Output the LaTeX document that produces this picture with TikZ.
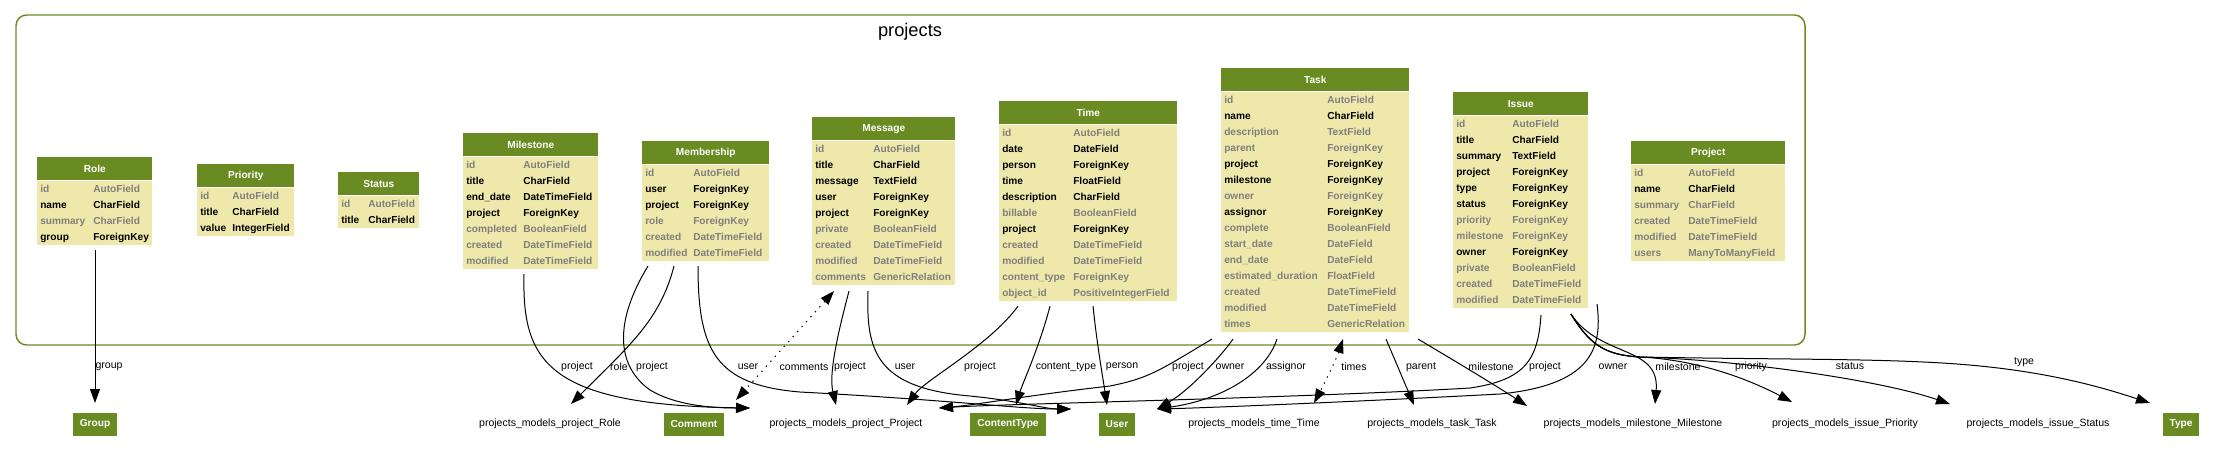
\documentclass[tikz,border=0pt]{standalone}
\usepackage{fontspec}
\setmainfont{Liberation Sans}
\usepackage{array}
\usetikzlibrary{arrows.meta,calc}
\newlength{\px}\setlength{\px}{0.75pt}
\definecolor{hdrgreen}{HTML}{698B22}
\definecolor{fieldbg}{HTML}{EEE8AA}
\definecolor{fieldgray}{HTML}{7F7F7F}
\newcommand{\tablefont}{\fontsize{7.6pt}{12pt}\selectfont\bfseries}
\newcommand{\labelfont}{\fontsize{7.9pt}{9pt}\selectfont}
\newcommand{\reqfield}[2]{#1 & #2\\}
\newcommand{\optfield}[2]{\textcolor{fieldgray}{#1} & \textcolor{fieldgray}{#2}\\}
\newcolumntype{F}[2]{@{\hspace{3\px}}p{#1}@{}p{#2}@{}}
\tikzset{
  cluster/.style={draw=hdrgreen, line width=1.1pt, rounded corners=8pt},
  title/.style={font=\fontsize{13.7pt}{16pt}\selectfont, inner sep=0pt},
  hdr/.style={fill=hdrgreen, text=white, font=\tablefont, inner sep=0pt,
    minimum height=23\px, anchor=north west},
  fields/.style={fill=fieldbg, inner sep=0pt, anchor=north west, font=\tablefont},
  ext/.style={fill=hdrgreen, text=white, font=\tablefont, inner xsep=7\px,
    inner ysep=0pt, minimum height=23\px},
  plain/.style={font=\labelfont, inner sep=0pt},
  lbl/.style={font=\labelfont, inner sep=0pt},
  fk/.style={-{Triangle[length=10.5pt,width=7.5pt]}, line width=0.75pt},
  gfk/.style={{Triangle[length=10.5pt,width=7.5pt]}-{Triangle[length=10.5pt,width=7.5pt]},
    line width=0.75pt, dash pattern=on 1pt off 4pt}
}
\begin{document}
\begin{tikzpicture}[x=0.75pt,y=-0.75pt]
  \useasboundingbox (0,0) rectangle (2223,472);
  \draw[cluster] (16,15) rectangle (1805,345);
  \node[title] (title) at (910,32) {projects};

  % models of the app
  \node[hdr, minimum width=115\px] (role) at (37,157) {Role};
  \node[fields] (role-f) at (role.south west) {\begin{tabular}{F{53\px}{59\px}}
    \optfield{id}{AutoField}
    \reqfield{name}{CharField}
    \optfield{summary}{CharField}
    \reqfield{group}{ForeignKey}
  \end{tabular}};
  \node[hdr, minimum width=97\px] (prio) at (197,164) {Priority};
  \node[fields] (prio-f) at (prio.south west) {\begin{tabular}{F{32\px}{62\px}}
    \optfield{id}{AutoField}
    \reqfield{title}{CharField}
    \reqfield{value}{IntegerField}
  \end{tabular}};
  \node[hdr, minimum width=81\px] (status) at (338,172) {Status};
  \node[fields] (status-f) at (status.south west) {\begin{tabular}{F{27\px}{51\px}}
    \optfield{id}{AutoField}
    \reqfield{title}{CharField}
  \end{tabular}};
  \node[hdr, minimum width=135\px] (mile) at (463,133) {Milestone};
  \node[fields] (mile-f) at (mile.south west) {\begin{tabular}{F{57\px}{75\px}}
    \optfield{id}{AutoField}
    \reqfield{title}{CharField}
    \reqfield{end\_date}{DateTimeField}
    \reqfield{project}{ForeignKey}
    \optfield{completed}{BooleanField}
    \optfield{created}{DateTimeField}
    \optfield{modified}{DateTimeField}
  \end{tabular}};
  \node[hdr, minimum width=127\px] (memb) at (642,141) {Membership};
  \node[fields] (memb-f) at (memb.south west) {\begin{tabular}{F{48\px}{76\px}}
    \optfield{id}{AutoField}
    \reqfield{user}{ForeignKey}
    \reqfield{project}{ForeignKey}
    \optfield{role}{ForeignKey}
    \optfield{created}{DateTimeField}
    \optfield{modified}{DateTimeField}
  \end{tabular}};
  \node[hdr, minimum width=143\px] (msg) at (812,117) {Message};
  \node[fields] (msg-f) at (msg.south west) {\begin{tabular}{F{58\px}{82\px}}
    \optfield{id}{AutoField}
    \reqfield{title}{CharField}
    \reqfield{message}{TextField}
    \reqfield{user}{ForeignKey}
    \reqfield{project}{ForeignKey}
    \optfield{private}{BooleanField}
    \optfield{created}{DateTimeField}
    \optfield{modified}{DateTimeField}
    \optfield{comments}{GenericRelation}
  \end{tabular}};
  \node[hdr, minimum width=178\px] (time) at (999,101) {Time};
  \node[fields] (time-f) at (time.south west) {\begin{tabular}{F{71\px}{104\px}}
    \optfield{id}{AutoField}
    \reqfield{date}{DateField}
    \reqfield{person}{ForeignKey}
    \reqfield{time}{FloatField}
    \reqfield{description}{CharField}
    \optfield{billable}{BooleanField}
    \reqfield{project}{ForeignKey}
    \optfield{created}{DateTimeField}
    \optfield{modified}{DateTimeField}
    \optfield{content\_type}{ForeignKey}
    \optfield{object\_id}{PositiveIntegerField}
  \end{tabular}};
  \node[hdr, minimum width=188\px] (task) at (1221,68) {Task};
  \node[fields] (task-f) at (task.south west) {\begin{tabular}{F{103\px}{82\px}}
    \optfield{id}{AutoField}
    \reqfield{name}{CharField}
    \optfield{description}{TextField}
    \optfield{parent}{ForeignKey}
    \reqfield{project}{ForeignKey}
    \reqfield{milestone}{ForeignKey}
    \optfield{owner}{ForeignKey}
    \reqfield{assignor}{ForeignKey}
    \optfield{complete}{BooleanField}
    \optfield{start\_date}{DateField}
    \optfield{end\_date}{DateField}
    \optfield{estimated\_duration}{FloatField}
    \optfield{created}{DateTimeField}
    \optfield{modified}{DateTimeField}
    \optfield{times}{GenericRelation}
  \end{tabular}};
  \node[hdr, minimum width=135\px] (issue) at (1453,92) {Issue};
  \node[fields] (issue-f) at (issue.south west) {\begin{tabular}{F{56\px}{76\px}}
    \optfield{id}{AutoField}
    \reqfield{title}{CharField}
    \reqfield{summary}{TextField}
    \reqfield{project}{ForeignKey}
    \reqfield{type}{ForeignKey}
    \reqfield{status}{ForeignKey}
    \optfield{priority}{ForeignKey}
    \optfield{milestone}{ForeignKey}
    \reqfield{owner}{ForeignKey}
    \optfield{private}{BooleanField}
    \optfield{created}{DateTimeField}
    \optfield{modified}{DateTimeField}
  \end{tabular}};
  \node[hdr, minimum width=154\px] (proj) at (1631,141) {Project};
  \node[fields] (proj-f) at (proj.south west) {\begin{tabular}{F{54\px}{97\px}}
    \optfield{id}{AutoField}
    \reqfield{name}{CharField}
    \optfield{summary}{CharField}
    \optfield{created}{DateTimeField}
    \optfield{modified}{DateTimeField}
    \optfield{users}{ManyToManyField}
  \end{tabular}};

  % targets outside the app
  \node[ext] (group) at (95,424) {Group};
  \node[plain] (prole) at (550,424) {projects\_models\_project\_Role};
  \node[ext] (comment) at (694,424) {Comment};
  \node[plain] (pprj) at (846,424) {projects\_models\_project\_Project};
  \node[ext] (ctype) at (1008,424) {ContentType};
  \node[ext] (user) at (1117,424) {User};
  \node[plain] (ptime) at (1254,424) {projects\_models\_time\_Time};
  \node[plain] (ptask) at (1432,424) {projects\_models\_task\_Task};
  \node[plain] (pmile) at (1633,424) {projects\_models\_milestone\_Milestone};
  \node[plain] (pprio) at (1845,424) {projects\_models\_issue\_Priority};
  \node[plain] (pstat) at (2038,424) {projects\_models\_issue\_Status};
  \node[ext] (type) at (2181,424) {Type};

  \begin{scope}[fk]
    \draw ($(role-f.south west)+(58,5)$) -- ($(group)+(0,-21)$)
      node[lbl] (l-group) at (109,367) {group};
    \draw ($(mile-f.south west)+(61,5)$) .. controls (522,360) and (545,405) .. ($(pprj)+(-96,-16)$)
      node[lbl] (l-mile) at (577,367) {project};
    \draw ($(memb-f.south west)+(6,5)$) .. controls (615,320) and (615,365) .. (650,390)
      .. controls (675,405) and (710,408) .. ($(pprj)+(-96,-16)$)
      node[lbl] (l-memb-prj) at (652,367) {project};
    \draw ($(memb-f.south west)+(32,5)$) .. controls (660,320) and (630,345) .. ($(prole)+(21,-20)$)
      node[lbl] (l-role) at (619,367) {role};
    \draw ($(memb-f.south west)+(56,5)$) .. controls (698,350) and (715,385) .. (800,392)
      .. controls (950,400) and (1020,409) .. ($(user)+(-46,-15)$)
      node[lbl] (l-memb-user) at (748,367) {user};
    \draw[gfk] ($(msg-f.south west)+(22,6)$) -- ($(comment)+(42,-24)$)
      node[lbl] (l-comments) at (804,367) {comments};
    \draw ($(msg-f.south west)+(37,6)$) .. controls (836,340) and (829,375) .. ($(pprj)+(-10,-19)$)
      node[lbl] (l-msg-prj) at (850,367) {project};
    \draw ($(msg-f.south west)+(56,6)$) .. controls (866,350) and (875,388) .. (970,396)
      .. controls (1020,401) and (1045,409) .. ($(user)+(-46,-15)$)
      node[lbl] (l-msg-user) at (905,367) {user};
    \draw ($(time-f.south west)+(19,5)$) .. controls (990,345) and (925,380) .. ($(pprj)+(61,-19)$)
      node[lbl] (l-time-prj) at (980,367) {project};
    \draw ($(time-f.south west)+(51,5)$) .. controls (1040,345) and (1022,385) .. ($(ctype)+(8,-19)$)
      node[lbl] (l-ctype) at (1066,367) {content\_type};
    \draw ($(time-f.south west)+(94,5)$) .. controls (1097,345) and (1104,385) .. ($(user)+(-10,-19)$)
      node[lbl] (l-person) at (1122,367) {person};
    \draw ($(task-f.south west)+(-9,7)$) .. controls (1160,370) and (1150,378) .. (1110,386)
      .. controls (1030,395) and (975,405) .. ($(pprj)+(93,-16)$)
      node[lbl] (l-task-prj) at (1188,367) {project};
    \draw ($(task-f.south west)+(12,7)$) .. controls (1222,355) and (1190,390) .. ($(user)+(40,-15)$)
      node[lbl] (l-task-owner) at (1230,367) {owner};
    \draw ($(task-f.south west)+(56,7)$) .. controls (1265,375) and (1220,400) .. ($(user)+(40,-15)$)
      node[lbl] (l-assignor) at (1286,367) {assignor};
    \draw[gfk] ($(task-f.south west)+(122,7)$) .. controls (1336,360) and (1322,388) .. ($(ptime)+(60,-21)$)
      node[lbl] (l-times) at (1354,367) {times};
    \draw ($(task-f.south west)+(165,7)$) -- ($(ptask)+(-18,-19)$)
      node[lbl] (l-parent) at (1421,367) {parent};
    \draw ($(task-f.south west)+(197,7)$) .. controls (1445,355) and (1495,385) .. ($(pmile)+(-106,-18)$)
      node[lbl] (l-task-mile) at (1491,367) {milestone};
    \draw ($(issue-f.south west)+(88,7)$) .. controls (1538,360) and (1525,380) .. (1470,388)
      .. controls (1300,398) and (1000,404) .. ($(pprj)+(93,-16)$)
      node[lbl] (l-issue-prj) at (1545,367) {project};
    \draw ($(issue-f.south west)+(144,-4)$) .. controls (1603,350) and (1590,385) .. (1500,394)
      .. controls (1350,402) and (1200,408) .. ($(user)+(40,-15)$)
      node[lbl] (l-issue-owner) at (1613,367) {owner};
    \draw ($(issue-f.south west)+(118,6)$) .. controls (1600,358) and (1660,345) .. ($(pmile)+(22,-20)$)
      node[lbl] (l-issue-mile) at (1678,367) {milestone};
    \draw ($(issue-f.south west)+(118,6)$) .. controls (1590,345) and (1605,355) .. (1640,357)
      .. controls (1700,360) and (1750,380) .. ($(pprio)+(-53,-22)$)
      node[lbl] (l-prio) at (1751,367) {priority};
    \draw ($(issue-f.south west)+(118,6)$) .. controls (1590,345) and (1605,355) .. (1640,357)
      .. controls (1740,360) and (1880,380) .. ($(pstat)+(-88,-20)$)
      node[lbl] (l-status) at (1850,366) {status};
    \draw ($(issue-f.south west)+(118,6)$) .. controls (1590,345) and (1605,355) .. (1640,357)
      .. controls (1800,360) and (1900,358) .. (1980,366)
      .. controls (2060,374) and (2110,390) .. ($(type)+(-31,-21)$)
      node[lbl] (l-type) at (2024,362) {type};
  \end{scope}
\end{tikzpicture}
\end{document}
